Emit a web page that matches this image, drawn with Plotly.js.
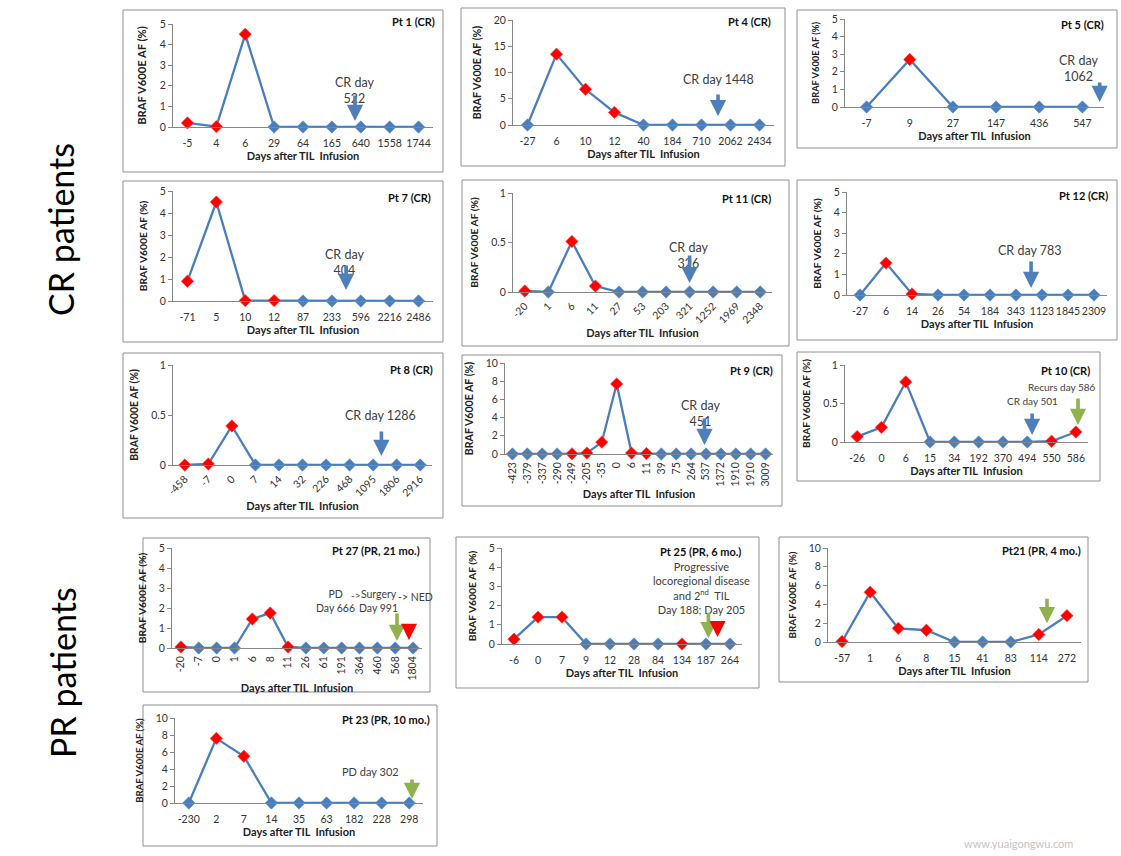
<!DOCTYPE html>
<html>
<head>
<meta charset="utf-8">
<script src="https://cdn.plot.ly/plotly-3.0.1.min.js"></script>
<style>html,body{margin:0;padding:0;background:#fff;}#chart{width:1121px;height:856px;}</style>
</head>
<body>
<div id="chart"></div>
<script>
// ---------- DATA ----------
// days after TIL infusion (category labels), BRAF V600E AF (%), detected flag (1 = red marker)
const pt1_days = ["-5","4","6","29","64","165","640","1558","1744"];
const pt1_af   = [0.2,0.02,4.5,0,0,0,0,0,0];
const pt1_red  = [1,1,1,0,0,0,0,0,0];

const pt4_days = ["-27","6","10","12","40","184","710","2062","2434"];
const pt4_af   = [0,13.5,6.8,2.4,0,0,0,0,0];
const pt4_red  = [0,1,1,1,0,0,0,0,0];

const pt5_days = ["-7","9","27","147","436","547"];
const pt5_af   = [0,2.7,0,0,0,0];
const pt5_red  = [0,1,0,0,0,0];

const pt7_days = ["-71","5","10","12","87","233","596","2216","2486"];
const pt7_af   = [0.9,4.5,0.02,0.02,0,0,0,0,0];
const pt7_red  = [1,1,1,1,0,0,0,0,0];

const pt11_days = ["-20","1","6","11","27","53","203","321","1252","1969","2348"];
const pt11_af   = [0.01,0,0.51,0.06,0,0,0,0,0,0,0];
const pt11_red  = [1,0,1,1,0,0,0,0,0,0,0];

const pt12_days = ["-27","6","14","26","54","184","343","1123","1845","2309"];
const pt12_af   = [0,1.55,0.05,0,0,0,0,0,0,0];
const pt12_red  = [0,1,1,0,0,0,0,0,0,0];

const pt8_days = ["-458","-7","0","7","14","32","226","468","1095","1806","2916"];
const pt8_af   = [0,0.01,0.39,0,0,0,0,0,0,0,0];
const pt8_red  = [1,1,1,0,0,0,0,0,0,0,0];

const pt9_days = ["-423","-379","-337","-290","-249","-205","-35","0","6","11","39","75","264","537","1372","1910","1910","3009"];
const pt9_af   = [0,0,0,0,0.02,0.1,1.3,7.7,0.1,0.05,0,0,0,0,0,0,0,0];
const pt9_red  = [0,0,0,0,1,1,1,1,1,1,0,0,0,0,0,0,0,0];

const pt10_days = ["-26","0","6","15","34","192","370","494","550","586"];
const pt10_af   = [0.07,0.19,0.78,0,0,0,0,0,0.01,0.13];
const pt10_red  = [1,1,1,0,0,0,0,0,1,1];

const pt27_days = ["-20","-7","0","1","6","8","11","26","61","191","364","460","568","1804"];
const pt27_af   = [0.05,0,0,0,1.45,1.75,0.05,0,0,0,0,0,0,0];
const pt27_red  = [1,0,0,0,1,1,1,0,0,0,0,0,0,0];

const pt25_days = ["-6","0","7","9","12","28","84","134","187","264"];
const pt25_af   = [0.25,1.4,1.4,0,0,0,0,0,0,0];
const pt25_red  = [1,1,1,0,0,0,0,1,0,0];

const pt21_days = ["-57","1","6","8","15","41","83","114","272"];
const pt21_af   = [0.05,5.3,1.45,1.25,0,0,0,0.8,2.8];
const pt21_red  = [1,1,1,1,0,0,0,1,1];

const pt23_days = ["-230","2","7","14","35","63","182","228","298"];
const pt23_af   = [0,7.6,5.5,0,0,0,0,0,0];
const pt23_red  = [0,1,1,0,0,0,0,0,0];

const titles = ["Pt 1 (CR)","Pt 4 (CR)","Pt 5 (CR)","Pt 7 (CR)","Pt 11 (CR)","Pt 12 (CR)","Pt 8 (CR)","Pt 9 (CR)","Pt 10 (CR)","Pt 27 (PR, 21 mo.)","Pt 25 (PR, 6 mo.)","Pt21 (PR, 4 mo.)","Pt 23 (PR, 10 mo.)"];
const xTitle = "Days after TIL  Infusion";
const yTitle = "BRAF V600E AF (%)";

// ---------- LAYOUT / STYLE ----------
const W = 1121, H = 856;
const BLUE = "#4a7ebb", RED = "#ff0000", GREEN = "#8fb24f", ABLUE = "#4f7fba";
const FONT = "Lato, 'Open Sans', sans-serif";

// plot: [left, top, right, bottom] px; box: [l,t,r,b] px; yf: y-title font size
const panels = [
  {d:pt1_days, v:pt1_af, r:pt1_red, ymax:5, dt:1, ang:0, plot:[173,24,433,127], box:[123,10,443,172], tp:[437,22], yf:11.2,
   notes:[{t:"CR day<br>522", x:5.77, y:1.75, s:12.5}], arrows:[{x:5.8, y:0.29, ay:-27, c:ABLUE}]},
  {d:pt4_days, v:pt4_af, r:pt4_red, ymax:20, dt:5, ang:0, plot:[513,20,774,125], box:[461,8,785,166], tp:[773,22], yf:10.6,
   notes:[{t:"CR day 1448", x:6.57, y:8.6, s:12.5}], arrows:[{x:6.57, y:1.7, ay:-23, c:ABLUE}]},
  {d:pt5_days, v:pt5_af, r:pt5_red, ymax:5, dt:1, ang:0, plot:[845,19,1104,107], box:[797,10,1117,148], tp:[1106,25], yf:9.3,
   notes:[{t:"CR day<br>1062", x:4.9, y:2.2, s:12.5}], arrows:[{x:5.4, y:0.28, ay:-21, c:ABLUE}]},
  {d:pt7_days, v:pt7_af, r:pt7_red, ymax:5, dt:1, ang:0, plot:[173,191,433,301], box:[123,181,443,342], tp:[433,197], yf:10.3,
   notes:[{t:"CR day<br>404", x:5.45, y:1.73, s:12.5}], arrows:[{x:5.49, y:0.5, ay:-26, c:ABLUE}]},
  {d:pt11_days, v:pt11_af, r:pt11_red, ymax:1, dt:0.5, ang:-45, plot:[513,193,772,292], box:[462,180,789,346], tp:[773,199], yf:10.3,
   notes:[{t:"CR day<br>326", x:6.95, y:0.37, s:12.5}], arrows:[{x:7.0, y:0.09, ay:-29, c:ABLUE}]},
  {d:pt12_days, v:pt12_af, r:pt12_red, ymax:5, dt:1, ang:0, plot:[847,192,1107,295], box:[797,180,1117,340], tp:[1110,196], yf:10.3,
   notes:[{t:"CR day 783", x:6.54, y:2.18, s:12.5}], arrows:[{x:6.58, y:0.34, ay:-28, c:ABLUE}]},
  {d:pt8_days, v:pt8_af, r:pt8_red, ymax:1, dt:0.5, ang:-45, plot:[173,365,432,465], box:[123,353,443,518], tp:[435,370], yf:10.4,
   notes:[{t:"CR day 1286", x:8.3, y:0.49, s:12.5}], arrows:[{x:8.35, y:0.09, ay:-26, c:ABLUE}]},
  {d:pt9_days, v:pt9_af, r:pt9_red, ymax:10, dt:2, ang:-90, plot:[505,363,773,454], box:[462,355,782,506], tp:[775,371], yf:10.6,
   notes:[{t:"CR day<br>451", x:12.6, y:4.4, s:12.5}], arrows:[{x:12.9, y:1.0, ay:-28, c:ABLUE}]},
  {d:pt10_days, v:pt10_af, r:pt10_red, ymax:1, dt:0.5, ang:0, plot:[845,365,1088,442], box:[797,352,1100,481], tp:[1092,371], yf:10.1,
   notes:[{t:"CR day 501", x:7.2, y:0.53, s:10}, {t:"Recurs day 586", x:8.43, y:0.72, s:10}],
   arrows:[{x:7.2, y:0.09, ay:-23, c:ABLUE}, {x:9.09, y:0.22, ay:-28, c:GREEN}]},
  {d:pt27_days, v:pt27_af, r:pt27_red, ymax:5, dt:1, ang:-90, plot:[172,548,422,648], box:[143,538,430,692], tp:[422,550], yf:10.3,
   notes:[{t:"PD<br>Day 666", x:8.68, y:2.35, s:10.5}, {t:"->", x:9.8, y:2.65, s:10}, {t:"Surgery<br>Day 991", x:11.05, y:2.35, s:10.5}, {t:"-> NED", x:13.15, y:2.55, s:10.5}],
   arrows:[{x:12.1, y:0.35, ay:-29, c:GREEN}, {x:12.77, y:0.4, ay:-16, c:RED}]},
  {d:pt25_days, v:pt25_af, r:pt25_red, ymax:5, dt:1, ang:0, plot:[502,548,742,644], box:[456,537,759,688], tp:[743,551], yf:10.3,
   notes:[{t:"Progressive<br>locoregional disease<br>and 2<sup>nd</sup>  TIL<br>Day 188; Day 205", x:7.83, y:2.9, s:11}],
   arrows:[{x:8.1, y:0.3, ay:-27, c:GREEN}, {x:8.48, y:0.36, ay:-16, c:RED}]},
  {d:pt21_days, v:pt21_af, r:pt21_red, ymax:10, dt:2, ang:0, plot:[828,548,1081,642], box:[779,537,1088,682], tp:[1083,550], yf:9.9,
   notes:[], arrows:[{x:7.29, y:2.0, ay:-26, c:GREEN}]},
  {d:pt23_days, v:pt23_af, r:pt23_red, ymax:10, dt:2, ang:0, plot:[175,718,423,803], box:[143,705,437,846], tp:[432,719], yf:9.6,
   notes:[{t:"PD day 302", x:6.6, y:3.7, s:11}], arrows:[{x:8.1, y:0.47, ay:-21, c:GREEN}]}
];

const traces = [];
const layout = {
  width: W, height: H, autosize: false,
  margin: {l:0, r:0, t:0, b:0, pad:0},
  paper_bgcolor: "#ffffff", plot_bgcolor: "rgba(0,0,0,0)",
  showlegend: false,
  font: {family: FONT, color: "#333333", size: 10.5},
  shapes: [], annotations: []
};

panels.forEach((p, i) => {
  const k = i + 1;
  const xs = "x" + k, ys = "y" + k;
  const xa = "xaxis" + (k === 1 ? "" : k), ya = "yaxis" + (k === 1 ? "" : k);
  const idx = p.d.map((_, j) => j);
  const [L, T, R, B] = p.plot;

  traces.push({
    type: "scatter", mode: "lines+markers", x: idx, y: p.v, xaxis: xs, yaxis: ys,
    cliponaxis: false,
    line: {color: BLUE, width: 2.3},
    marker: {symbol: "diamond", size: 9.5, color: p.r.map(f => f ? RED : BLUE),
             line: {color: p.r.map(f => f ? "#ff4040" : "#5a8ac6"), width: 0.6}},
    hoverinfo: "skip"
  });

  layout[xa] = {
    domain: [L / W, R / W], anchor: ys, range: [-0.5, p.d.length - 0.5],
    tickmode: "array", tickvals: idx, ticktext: p.d, tickangle: p.ang,
    showline: true, linecolor: "#868686", linewidth: 1,
    ticks: "outside", ticklen: p.ang === 0 ? 6 : 3, tickcolor: "rgba(0,0,0,0)",
    showgrid: false, zeroline: false, fixedrange: true,
    tickfont: {family: FONT, size: 10.5, color: "#333"},
    title: {text: "<b>" + xTitle + "</b>", font: {family: FONT, size: 11, color: "#222"}, standoff: 4}
  };
  layout[ya] = {
    domain: [1 - B / H, 1 - T / H], anchor: xs, range: [0, p.ymax],
    tick0: 0, dtick: p.dt,
    showline: true, linecolor: "#868686", linewidth: 1,
    ticks: "outside", ticklen: 4, tickcolor: "#868686",
    showgrid: false, zeroline: false, fixedrange: true,
    tickfont: {family: FONT, size: 10.5, color: "#333"},
    title: {text: "<b>" + yTitle + "</b>", font: {family: FONT, size: p.yf, color: "#222"}, standoff: 10}
  };

  // panel border
  const [bl, bt, br, bb] = p.box;
  layout.shapes.push({type: "rect", xref: "paper", yref: "paper", layer: "below",
    x0: bl / W, x1: br / W, y0: 1 - bb / H, y1: 1 - bt / H,
    line: {color: "#8f8f8f", width: 1}, fillcolor: "rgba(0,0,0,0)"});

  // panel title
  layout.annotations.push({xref: "paper", yref: "paper", x: p.tp[0] / W, y: 1 - p.tp[1] / H,
    xanchor: "right", yanchor: "middle", showarrow: false,
    text: "<b>" + titles[i] + "</b>", font: {family: FONT, size: 11, color: "#111"}});

  // notes
  p.notes.forEach(n => layout.annotations.push({xref: xs, yref: ys, x: n.x, y: n.y,
    xanchor: "center", yanchor: "middle", showarrow: false, text: n.t,
    font: {family: FONT, size: n.s, color: "#404040"}}));

  // arrows
  p.arrows.forEach(a => layout.annotations.push({xref: xs, yref: ys, x: a.x, y: a.y,
    text: "", showarrow: true, ax: 0, ay: a.ay, arrowhead: 2, arrowsize: 0.9,
    arrowwidth: 3.6, arrowcolor: a.c, standoff: 0}));
});

// side labels
layout.annotations.push({xref: "paper", yref: "paper", x: 60 / W, y: 1 - 230 / H, textangle: -90,
  xanchor: "center", yanchor: "middle",
  showarrow: false, text: "CR patients", font: {family: FONT, size: 34, color: "#000"}});
layout.annotations.push({xref: "paper", yref: "paper", x: 62 / W, y: 1 - 673 / H, textangle: -90,
  xanchor: "center", yanchor: "middle",
  showarrow: false, text: "PR patients", font: {family: FONT, size: 34, color: "#000"}});
// watermark
layout.annotations.push({xref: "paper", yref: "paper", x: 1018 / W, y: 1 - 843 / H,
  xanchor: "center", yanchor: "middle",
  showarrow: false, text: "www.yuaigongwu.com", font: {family: FONT, size: 11, color: "#c4c4c4"}});

Plotly.newPlot("chart", traces, layout, {staticPlot: true, displayModeBar: false});
</script>
</body>
</html>
